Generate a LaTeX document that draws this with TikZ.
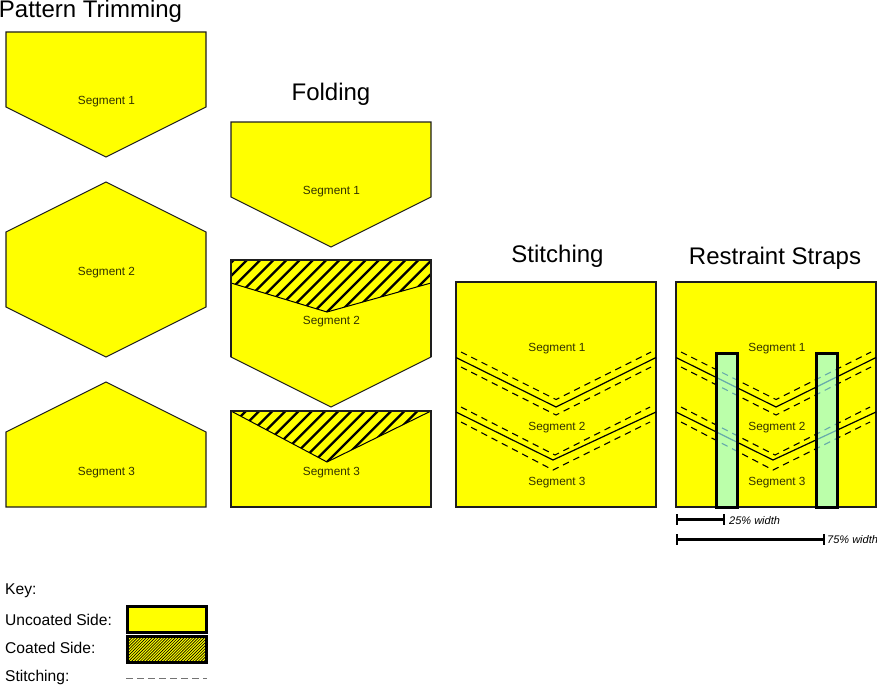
\documentclass[tikz,border=0pt]{standalone}
\usepackage{fontspec}
\setmainfont{Liberation Sans}
\definecolor{segy}{RGB}{255,255,0}
\definecolor{segtext}{RGB}{50,50,0}
\definecolor{strapc}{RGB}{153,255,255}
\definecolor{edgeg}{RGB}{30,30,30}
\tikzset{
  seg/.style={draw=edgeg,fill=segy,line width=1.1pt,line join=miter},
  hatchline/.style={draw=black,line width=2.3pt},
  finehatch/.style={draw=black,line width=0.65pt},
  foldedge/.style={draw=black,line width=1pt},
  seam/.style={draw=black,line width=1.2pt},
  stitch/.style={draw=black,line width=1.1pt,dash pattern=on 6.5pt off 5pt},
  strap/.style={draw=black,fill=strapc,fill opacity=0.667,draw opacity=1,line width=3pt},
  measure/.style={draw=black,line width=3pt},
  tick/.style={draw=black,line width=2pt},
  seglabel/.style={font=\fontsize{11.8}{13}\selectfont,text=segtext,inner sep=0pt},
  titlelabel/.style={font=\fontsize{24}{27}\selectfont,inner sep=0pt},
  keylabel/.style={font=\fontsize{15.6}{17}\selectfont,anchor=west,inner sep=0pt},
  widthlabel/.style={font=\fontsize{11}{12}\selectfont\itshape,anchor=west,inner sep=0pt},
  keybox/.style={draw=black,line width=3pt,minimum width=79pt,minimum height=26pt,inner sep=0pt,outer sep=0pt}
}
\begin{document}
\begin{tikzpicture}[x=1pt,y=-1pt]
\useasboundingbox (0,0) rectangle (877,685);
% Pattern Trimming
\node[titlelabel] (t1) at (90.5,11) {Pattern Trimming};
\draw[seg] (6,32) -- (206,32) -- (206,107) -- (106,157) -- (6,107) -- cycle;
\draw[seg] (106,182) -- (206,232) -- (206,307) -- (106,357) -- (6,307) -- (6,232) -- cycle;
\draw[seg] (106,382) -- (206,432) -- (206,507) -- (6,507) -- (6,432) -- cycle;
\node[seglabel] (a1) at (106.5,102) {Segment 1};
\node[seglabel] (a2) at (106.5,272.5) {Segment 2};
\node[seglabel] (a3) at (106.5,473) {Segment 3};
% Folding
\node[titlelabel] (t2) at (331,94) {Folding};
\draw[seg] (231,122) -- (431,122) -- (431,197) -- (331,247) -- (231,197) -- cycle;
\draw[seg] (231,260) -- (431,260) -- (431,357) -- (331,407) -- (231,357) -- cycle;
\draw[seg] (231,411) -- (431,411) -- (431,507) -- (231,507) -- cycle;
\begin{scope}
  \clip (231,260) -- (431,260) -- (431,283) -- (327,312) -- (231,283) -- cycle;
  \foreach \k in {-12,...,6} \draw[hatchline] ({324+13.2*\k},315) -- ++(60,-60);
\end{scope}
\begin{scope}
  \clip (231,411) -- (431,411) -- (327,462) -- cycle;
  \foreach \k in {-12,...,6} \draw[hatchline] ({324+13.2*\k},465) -- ++(60,-60);
\end{scope}
\draw[foldedge] (231,283) -- (327,312) -- (431,283);
\draw[foldedge] (231,411) -- (327,462) -- (431,411);
\draw[seg,fill=none] (231,357) -- (231,260) -- (431,260) -- (431,357);
\draw[seg,fill=none] (231,411) -- (431,411);
\node[seglabel] (b1) at (331.5,192) {Segment 1};
\node[seglabel] (b2) at (331.5,322) {Segment 2};
\node[seglabel] (b3) at (331.5,472.5) {Segment 3};
% Stitching
\node[titlelabel] (t3) at (557.5,256.5) {Stitching};
\draw[seg] (456,282) rectangle (656,507);
\draw[seam] (456,357.5) -- (556,407) -- (656,357.5);
\draw[seam] (456,412) -- (553,460) -- (656,412);
\draw[stitch] (461,352) -- (556,399.5) -- (651,352);
\draw[stitch] (461,367) -- (556,415) -- (651,367);
\draw[stitch] (461,407) -- (555,455) -- (650,407);
\draw[stitch] (461,422) -- (553,470) -- (650,422);
\node[seglabel] (c1) at (557,348.5) {Segment 1};
\node[seglabel] (c2) at (557,428) {Segment 2};
\node[seglabel] (c3) at (557,483) {Segment 3};
% Restraint Straps
\node[titlelabel] (t4) at (775,258.5) {Restraint Straps};
\draw[seg] (676,282) rectangle (876,507);
\draw[seam] (676,357.5) -- (776,407) -- (876,357.5);
\draw[seam] (676,412) -- (773,460) -- (876,412);
\draw[stitch] (681,352) -- (776,399.5) -- (871,352);
\draw[stitch] (681,367) -- (776,415) -- (871,367);
\draw[stitch] (681,407) -- (775,455) -- (870,407);
\draw[stitch] (681,422) -- (773,470) -- (870,422);
\node[seglabel] (d1) at (777,348.5) {Segment 1};
\node[seglabel] (d2) at (777,428) {Segment 2};
\node[seglabel] (d3) at (777,483) {Segment 3};
\draw[strap] (716,353.5) rectangle (737,507);
\draw[strap] (816,353.5) rectangle (837,507);
% Width measures
\coordinate (m1a) at (677,519);
\coordinate (m1b) at (724,519);
\coordinate (m2a) at (677,539);
\coordinate (m2b) at (824,539);
\draw[measure] (m1a) -- (m1b);
\draw[measure] (m2a) -- (m2b);
\foreach \p in {m1a,m1b,m2a,m2b} \draw[tick] ([yshift=-5.5pt]\p) -- ([yshift=5.5pt]\p);
\node[widthlabel] (w1) at (729,520.5) {25\% width};
\node[widthlabel] (w2) at (827,539.5) {75\% width};
% Key
\node[keylabel] (k0) at (5,591) {Key:};
\node[keylabel] (k1) at (5,619.5) {Uncoated Side:};
\node[keylabel] (k2) at (5,647.5) {Coated Side:};
\node[keylabel] (k3) at (5,677) {Stitching:};
\node[keybox,fill=segy] (kb1) at (166.5,619) {};
\fill[segy] (127,636.5) rectangle (206,662.5);
\begin{scope}
  \clip (127,636.5) rectangle (206,662.5);
  \foreach \k in {-10,...,30} \draw[finehatch] ({122+2.9*\k},665) -- ++(30,-30);
\end{scope}
\node[keybox] (kb2) at (166.5,649.5) {};
\draw[draw=black!55,line width=1.2pt,dash pattern=on 7pt off 4pt] (126,678.5) -- (207,678.5);
\end{tikzpicture}
\end{document}
